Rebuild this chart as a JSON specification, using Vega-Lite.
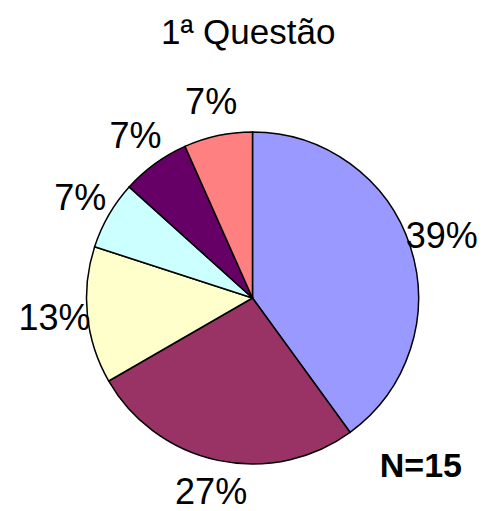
{
  "$schema": "https://vega.github.io/schema/vega-lite/v6.json",
  "padding": {"left": 18, "top": 16, "right": 0, "bottom": 0},
  "background": "white",
  "config": {"view": {"stroke": null}, "font": "Liberation Sans"},
  "title": {"text": "1ª Questão", "font": "Liberation Sans", "fontSize": 35, "fontWeight": "normal", "color": "black", "anchor": "middle", "offset": 34},
  "vconcat": [
    {
      "title": {"text": "N=15", "orient": "bottom", "anchor": "end", "frame": "group", "font": "Liberation Sans", "fontSize": 34, "fontWeight": "bold", "color": "black", "offset": -61},
      "width": 419,
      "height": 286,
      "data": {"values": [
        {"slice": 1, "count": 6, "label": "39%"},
        {"slice": 2, "count": 4, "label": "27%"},
        {"slice": 3, "count": 2, "label": "13%"},
        {"slice": 4, "count": 1, "label": "7%"},
        {"slice": 5, "count": 1, "label": "7%"},
        {"slice": 6, "count": 1, "label": "7%"}
      ]},
      "encoding": {
        "theta": {"field": "count", "type": "quantitative", "stack": true},
        "order": {"field": "slice", "type": "ordinal"}
      },
      "layer": [
        {
          "mark": {"type": "arc", "outerRadius": 166, "stroke": "black", "strokeWidth": 1.5},
          "encoding": {
            "color": {"field": "slice", "type": "nominal", "legend": null,
              "scale": {"domain": [1, 2, 3, 4, 5, 6], "range": ["#9999FF", "#993366", "#FFFFCC", "#CCFFFF", "#660066", "#FF8080"]}}
          }
        },
        {
          "mark": {"type": "text", "radius": 199, "font": "Liberation Sans", "fontSize": 36, "color": "black", "align": "center", "baseline": "middle"},
          "encoding": {"text": {"field": "label", "type": "nominal"}}
        }
      ]
    }
  ]
}
